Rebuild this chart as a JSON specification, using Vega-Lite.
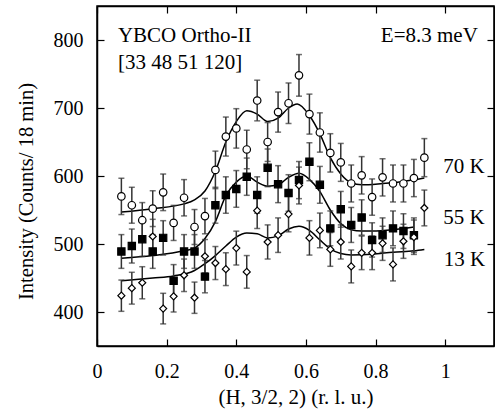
{
  "$schema": "https://vega.github.io/schema/vega-lite/v6.json",
  "width": 397,
  "height": 340,
  "autosize": "none",
  "padding": {"left": 97, "top": 6, "right": 1, "bottom": 65},
  "config": {
    "view": {"stroke": "black", "strokeWidth": 1.5},
    "font": "Liberation Serif",
    "axis": {
      "grid": false,
      "tickSize": -7,
      "tickColor": "black",
      "tickWidth": 1.2,
      "domainColor": "black",
      "domainWidth": 1.5,
      "labelFont": "Liberation Serif",
      "labelFontSize": 20,
      "labelColor": "black",
      "labelFlush": false,
      "labelOverlap": false,
      "titleFont": "Liberation Serif",
      "titleFontSize": 21,
      "titleFontWeight": "normal",
      "titleColor": "black"
    }
  },
  "datasets": {
    "pts": [
      {"series": "70 K", "h": 0.07, "I": 570, "err": 26.7},
      {"series": "70 K", "h": 0.10, "I": 557, "err": 26.4},
      {"series": "70 K", "h": 0.13, "I": 535, "err": 25.9},
      {"series": "70 K", "h": 0.16, "I": 552, "err": 26.3},
      {"series": "70 K", "h": 0.19, "I": 576, "err": 26.9},
      {"series": "70 K", "h": 0.22, "I": 531, "err": 25.8},
      {"series": "70 K", "h": 0.25, "I": 568, "err": 26.7},
      {"series": "70 K", "h": 0.28, "I": 525, "err": 25.7},
      {"series": "70 K", "h": 0.31, "I": 541, "err": 26.0},
      {"series": "70 K", "h": 0.34, "I": 609, "err": 27.6},
      {"series": "70 K", "h": 0.37, "I": 658, "err": 28.7},
      {"series": "70 K", "h": 0.40, "I": 670, "err": 29.0},
      {"series": "70 K", "h": 0.43, "I": 639, "err": 28.3},
      {"series": "70 K", "h": 0.46, "I": 711, "err": 29.9},
      {"series": "70 K", "h": 0.49, "I": 650, "err": 28.6},
      {"series": "70 K", "h": 0.52, "I": 694, "err": 29.5},
      {"series": "70 K", "h": 0.55, "I": 707, "err": 29.8},
      {"series": "70 K", "h": 0.58, "I": 748, "err": 30.6},
      {"series": "70 K", "h": 0.61, "I": 691, "err": 29.4},
      {"series": "70 K", "h": 0.64, "I": 664, "err": 28.9},
      {"series": "70 K", "h": 0.67, "I": 634, "err": 28.2},
      {"series": "70 K", "h": 0.70, "I": 620, "err": 27.9},
      {"series": "70 K", "h": 0.73, "I": 589, "err": 27.2},
      {"series": "70 K", "h": 0.76, "I": 601, "err": 27.5},
      {"series": "70 K", "h": 0.79, "I": 569, "err": 26.7},
      {"series": "70 K", "h": 0.82, "I": 598, "err": 27.4},
      {"series": "70 K", "h": 0.85, "I": 589, "err": 27.2},
      {"series": "70 K", "h": 0.88, "I": 589, "err": 27.2},
      {"series": "70 K", "h": 0.91, "I": 597, "err": 27.4},
      {"series": "70 K", "h": 0.94, "I": 627, "err": 28.0},
      {"series": "55 K", "h": 0.07, "I": 489, "err": 24.8},
      {"series": "55 K", "h": 0.10, "I": 497, "err": 25.0},
      {"series": "55 K", "h": 0.13, "I": 507, "err": 25.2},
      {"series": "55 K", "h": 0.16, "I": 489, "err": 24.8},
      {"series": "55 K", "h": 0.19, "I": 509, "err": 25.3},
      {"series": "55 K", "h": 0.22, "I": 446, "err": 23.7},
      {"series": "55 K", "h": 0.25, "I": 489, "err": 24.8},
      {"series": "55 K", "h": 0.28, "I": 489, "err": 24.8},
      {"series": "55 K", "h": 0.31, "I": 452, "err": 23.8},
      {"series": "55 K", "h": 0.34, "I": 557, "err": 26.4},
      {"series": "55 K", "h": 0.37, "I": 572, "err": 26.8},
      {"series": "55 K", "h": 0.40, "I": 581, "err": 27.0},
      {"series": "55 K", "h": 0.43, "I": 599, "err": 27.4},
      {"series": "55 K", "h": 0.46, "I": 572, "err": 26.8},
      {"series": "55 K", "h": 0.49, "I": 612, "err": 27.7},
      {"series": "55 K", "h": 0.52, "I": 588, "err": 27.2},
      {"series": "55 K", "h": 0.55, "I": 575, "err": 26.9},
      {"series": "55 K", "h": 0.58, "I": 594, "err": 27.3},
      {"series": "55 K", "h": 0.61, "I": 621, "err": 27.9},
      {"series": "55 K", "h": 0.64, "I": 587, "err": 27.1},
      {"series": "55 K", "h": 0.67, "I": 523, "err": 25.6},
      {"series": "55 K", "h": 0.70, "I": 551, "err": 26.3},
      {"series": "55 K", "h": 0.73, "I": 528, "err": 25.7},
      {"series": "55 K", "h": 0.76, "I": 539, "err": 26.0},
      {"series": "55 K", "h": 0.79, "I": 506, "err": 25.2},
      {"series": "55 K", "h": 0.82, "I": 513, "err": 25.4},
      {"series": "55 K", "h": 0.85, "I": 523, "err": 25.6},
      {"series": "55 K", "h": 0.88, "I": 519, "err": 25.5},
      {"series": "55 K", "h": 0.91, "I": 513, "err": 25.4},
      {"series": "13 K", "h": 0.07, "I": 424, "err": 23.0},
      {"series": "13 K", "h": 0.10, "I": 435, "err": 23.4},
      {"series": "13 K", "h": 0.13, "I": 443, "err": 23.6},
      {"series": "13 K", "h": 0.16, "I": 511, "err": 25.3},
      {"series": "13 K", "h": 0.19, "I": 405, "err": 22.5},
      {"series": "13 K", "h": 0.22, "I": 423, "err": 23.0},
      {"series": "13 K", "h": 0.25, "I": 454, "err": 23.9},
      {"series": "13 K", "h": 0.28, "I": 421, "err": 23.0},
      {"series": "13 K", "h": 0.31, "I": 482, "err": 24.6},
      {"series": "13 K", "h": 0.34, "I": 472, "err": 24.3},
      {"series": "13 K", "h": 0.37, "I": 463, "err": 24.1},
      {"series": "13 K", "h": 0.40, "I": 494, "err": 24.9},
      {"series": "13 K", "h": 0.43, "I": 459, "err": 24.0},
      {"series": "13 K", "h": 0.46, "I": 549, "err": 26.2},
      {"series": "13 K", "h": 0.49, "I": 503, "err": 25.1},
      {"series": "13 K", "h": 0.52, "I": 513, "err": 25.4},
      {"series": "13 K", "h": 0.55, "I": 544, "err": 26.1},
      {"series": "13 K", "h": 0.58, "I": 586, "err": 27.1},
      {"series": "13 K", "h": 0.61, "I": 509, "err": 25.3},
      {"series": "13 K", "h": 0.64, "I": 520, "err": 25.5},
      {"series": "13 K", "h": 0.67, "I": 492, "err": 24.8},
      {"series": "13 K", "h": 0.70, "I": 503, "err": 25.1},
      {"series": "13 K", "h": 0.73, "I": 467, "err": 24.2},
      {"series": "13 K", "h": 0.76, "I": 487, "err": 24.7},
      {"series": "13 K", "h": 0.79, "I": 487, "err": 24.7},
      {"series": "13 K", "h": 0.82, "I": 501, "err": 25.1},
      {"series": "13 K", "h": 0.85, "I": 470, "err": 24.3},
      {"series": "13 K", "h": 0.88, "I": 504, "err": 25.1},
      {"series": "13 K", "h": 0.91, "I": 510, "err": 25.3},
      {"series": "13 K", "h": 0.94, "I": 553, "err": 26.3}
    ],
    "fit": [
      {"series": "70 K", "h": 0.07, "I": 547},
      {"series": "70 K", "h": 0.16, "I": 552},
      {"series": "70 K", "h": 0.25, "I": 559},
      {"series": "70 K", "h": 0.28, "I": 565},
      {"series": "70 K", "h": 0.31, "I": 578},
      {"series": "70 K", "h": 0.34, "I": 607},
      {"series": "70 K", "h": 0.37, "I": 650},
      {"series": "70 K", "h": 0.40, "I": 680},
      {"series": "70 K", "h": 0.43, "I": 696},
      {"series": "70 K", "h": 0.46, "I": 691},
      {"series": "70 K", "h": 0.49, "I": 680},
      {"series": "70 K", "h": 0.52, "I": 685},
      {"series": "70 K", "h": 0.55, "I": 700},
      {"series": "70 K", "h": 0.575, "I": 706},
      {"series": "70 K", "h": 0.61, "I": 689},
      {"series": "70 K", "h": 0.64, "I": 662},
      {"series": "70 K", "h": 0.67, "I": 627},
      {"series": "70 K", "h": 0.70, "I": 603},
      {"series": "70 K", "h": 0.73, "I": 590},
      {"series": "70 K", "h": 0.76, "I": 587},
      {"series": "70 K", "h": 0.82, "I": 589},
      {"series": "70 K", "h": 0.88, "I": 592},
      {"series": "70 K", "h": 0.94, "I": 597},
      {"series": "55 K", "h": 0.07, "I": 479},
      {"series": "55 K", "h": 0.16, "I": 483},
      {"series": "55 K", "h": 0.25, "I": 490},
      {"series": "55 K", "h": 0.28, "I": 494},
      {"series": "55 K", "h": 0.31, "I": 508},
      {"series": "55 K", "h": 0.34, "I": 533},
      {"series": "55 K", "h": 0.37, "I": 571},
      {"series": "55 K", "h": 0.40, "I": 591},
      {"series": "55 K", "h": 0.43, "I": 600},
      {"series": "55 K", "h": 0.46, "I": 591},
      {"series": "55 K", "h": 0.49, "I": 585},
      {"series": "55 K", "h": 0.52, "I": 587},
      {"series": "55 K", "h": 0.55, "I": 598},
      {"series": "55 K", "h": 0.58, "I": 604},
      {"series": "55 K", "h": 0.61, "I": 595},
      {"series": "55 K", "h": 0.64, "I": 577},
      {"series": "55 K", "h": 0.67, "I": 550},
      {"series": "55 K", "h": 0.70, "I": 530},
      {"series": "55 K", "h": 0.73, "I": 521},
      {"series": "55 K", "h": 0.76, "I": 519},
      {"series": "55 K", "h": 0.79, "I": 519},
      {"series": "55 K", "h": 0.85, "I": 521},
      {"series": "55 K", "h": 0.91, "I": 525},
      {"series": "13 K", "h": 0.07, "I": 446},
      {"series": "13 K", "h": 0.16, "I": 450},
      {"series": "13 K", "h": 0.22, "I": 453},
      {"series": "13 K", "h": 0.28, "I": 461},
      {"series": "13 K", "h": 0.31, "I": 471},
      {"series": "13 K", "h": 0.34, "I": 483},
      {"series": "13 K", "h": 0.37, "I": 497},
      {"series": "13 K", "h": 0.40, "I": 510},
      {"series": "13 K", "h": 0.43, "I": 516},
      {"series": "13 K", "h": 0.46, "I": 515},
      {"series": "13 K", "h": 0.49, "I": 509},
      {"series": "13 K", "h": 0.52, "I": 512},
      {"series": "13 K", "h": 0.55, "I": 522},
      {"series": "13 K", "h": 0.58, "I": 526},
      {"series": "13 K", "h": 0.61, "I": 520},
      {"series": "13 K", "h": 0.64, "I": 506},
      {"series": "13 K", "h": 0.67, "I": 493},
      {"series": "13 K", "h": 0.70, "I": 486},
      {"series": "13 K", "h": 0.73, "I": 484},
      {"series": "13 K", "h": 0.79, "I": 485},
      {"series": "13 K", "h": 0.85, "I": 488},
      {"series": "13 K", "h": 0.91, "I": 490},
      {"series": "13 K", "h": 0.94, "I": 492}
    ],
    "labels": [
      {"text": "YBCO Ortho-II", "h": 0.06, "I": 797},
      {"text": "[33 48 51 120]", "h": 0.06, "I": 758},
      {"text": "E=8.3 meV", "h": 0.815, "I": 797},
      {"text": "70 K", "h": 0.994, "I": 604},
      {"text": "55 K", "h": 0.994, "I": 529},
      {"text": "13 K", "h": 0.996, "I": 468}
    ]
  },
  "layer": [
    {
      "data": {"name": "fit"},
      "mark": {"type": "line", "interpolate": "monotone", "color": "black", "strokeWidth": 1.5},
      "encoding": {
        "x": {
          "field": "h", "type": "quantitative",
          "scale": {"domain": [0, 1.14], "nice": false, "zero": false},
          "axis": {
            "orient": "bottom",
            "values": [0, 0.2, 0.4, 0.6, 0.8, 1],
            "format": "~g",
            "labelPadding": 22,
            "title": "(H, 3/2, 2) (r. l. u.)",
            "titleY": 57,
            "titleBaseline": "alphabetic"
          }
        },
        "y": {
          "field": "I", "type": "quantitative",
          "scale": {"domain": [350, 850], "nice": false, "zero": false},
          "axis": {
            "orient": "left",
            "values": [400, 500, 600, 700, 800],
            "labelPadding": 21,
            "title": "Intensity (Counts/ 18 min)",
            "titleFontSize": 20.5,
            "titleX": -65,
            "titleY": 185,
            "titleAngle": 270,
            "titleBaseline": "alphabetic"
          }
        },
        "detail": {"field": "series"}
      }
    },
    {
      "data": {"name": "pts"},
      "mark": {"type": "errorbar", "ticks": true, "size": 6, "thickness": 1.5, "color": "#333333"},
      "encoding": {
        "x": {"field": "h", "type": "quantitative", "scale": {"domain": [0, 1.14], "nice": false, "zero": false}, "axis": null},
        "y": {"field": "I", "type": "quantitative", "scale": {"domain": [350, 850], "nice": false, "zero": false}, "axis": null},
        "yError": {"field": "err"}
      }
    },
    {
      "data": {"name": "pts"},
      "mark": {"type": "point", "filled": true, "stroke": "black", "strokeWidth": 1.2, "opacity": 1},
      "encoding": {
        "x": {"field": "h", "type": "quantitative", "scale": {"domain": [0, 1.14], "nice": false, "zero": false}, "axis": null},
        "y": {"field": "I", "type": "quantitative", "scale": {"domain": [350, 850], "nice": false, "zero": false}, "axis": null},
        "shape": {"field": "series", "type": "nominal", "scale": {"domain": ["70 K", "55 K", "13 K"], "range": ["circle", "square", "diamond"]}, "legend": null},
        "fill": {"field": "series", "type": "nominal", "scale": {"domain": ["70 K", "55 K", "13 K"], "range": ["white", "black", "white"]}, "legend": null},
        "size": {"field": "series", "type": "nominal", "scale": {"domain": ["70 K", "55 K", "13 K"], "range": [56, 49, 85]}, "legend": null}
      }
    },
    {
      "data": {"name": "labels"},
      "mark": {"type": "text", "align": "left", "baseline": "alphabetic", "font": "Liberation Serif", "fontSize": 21, "color": "black"},
      "encoding": {
        "x": {
          "field": "h", "type": "quantitative",
          "scale": {"domain": [0, 1.14], "nice": false, "zero": false},
          "axis": {"orient": "top", "values": [0, 0.2, 0.4, 0.6, 0.8, 1], "labels": false, "title": null}
        },
        "y": {
          "field": "I", "type": "quantitative",
          "scale": {"domain": [350, 850], "nice": false, "zero": false},
          "axis": {"orient": "right", "values": [400, 500, 600, 700, 800], "labels": false, "title": null}
        },
        "text": {"field": "text"}
      }
    }
  ],
  "resolve": {"axis": {"x": "independent", "y": "independent"}}
}
